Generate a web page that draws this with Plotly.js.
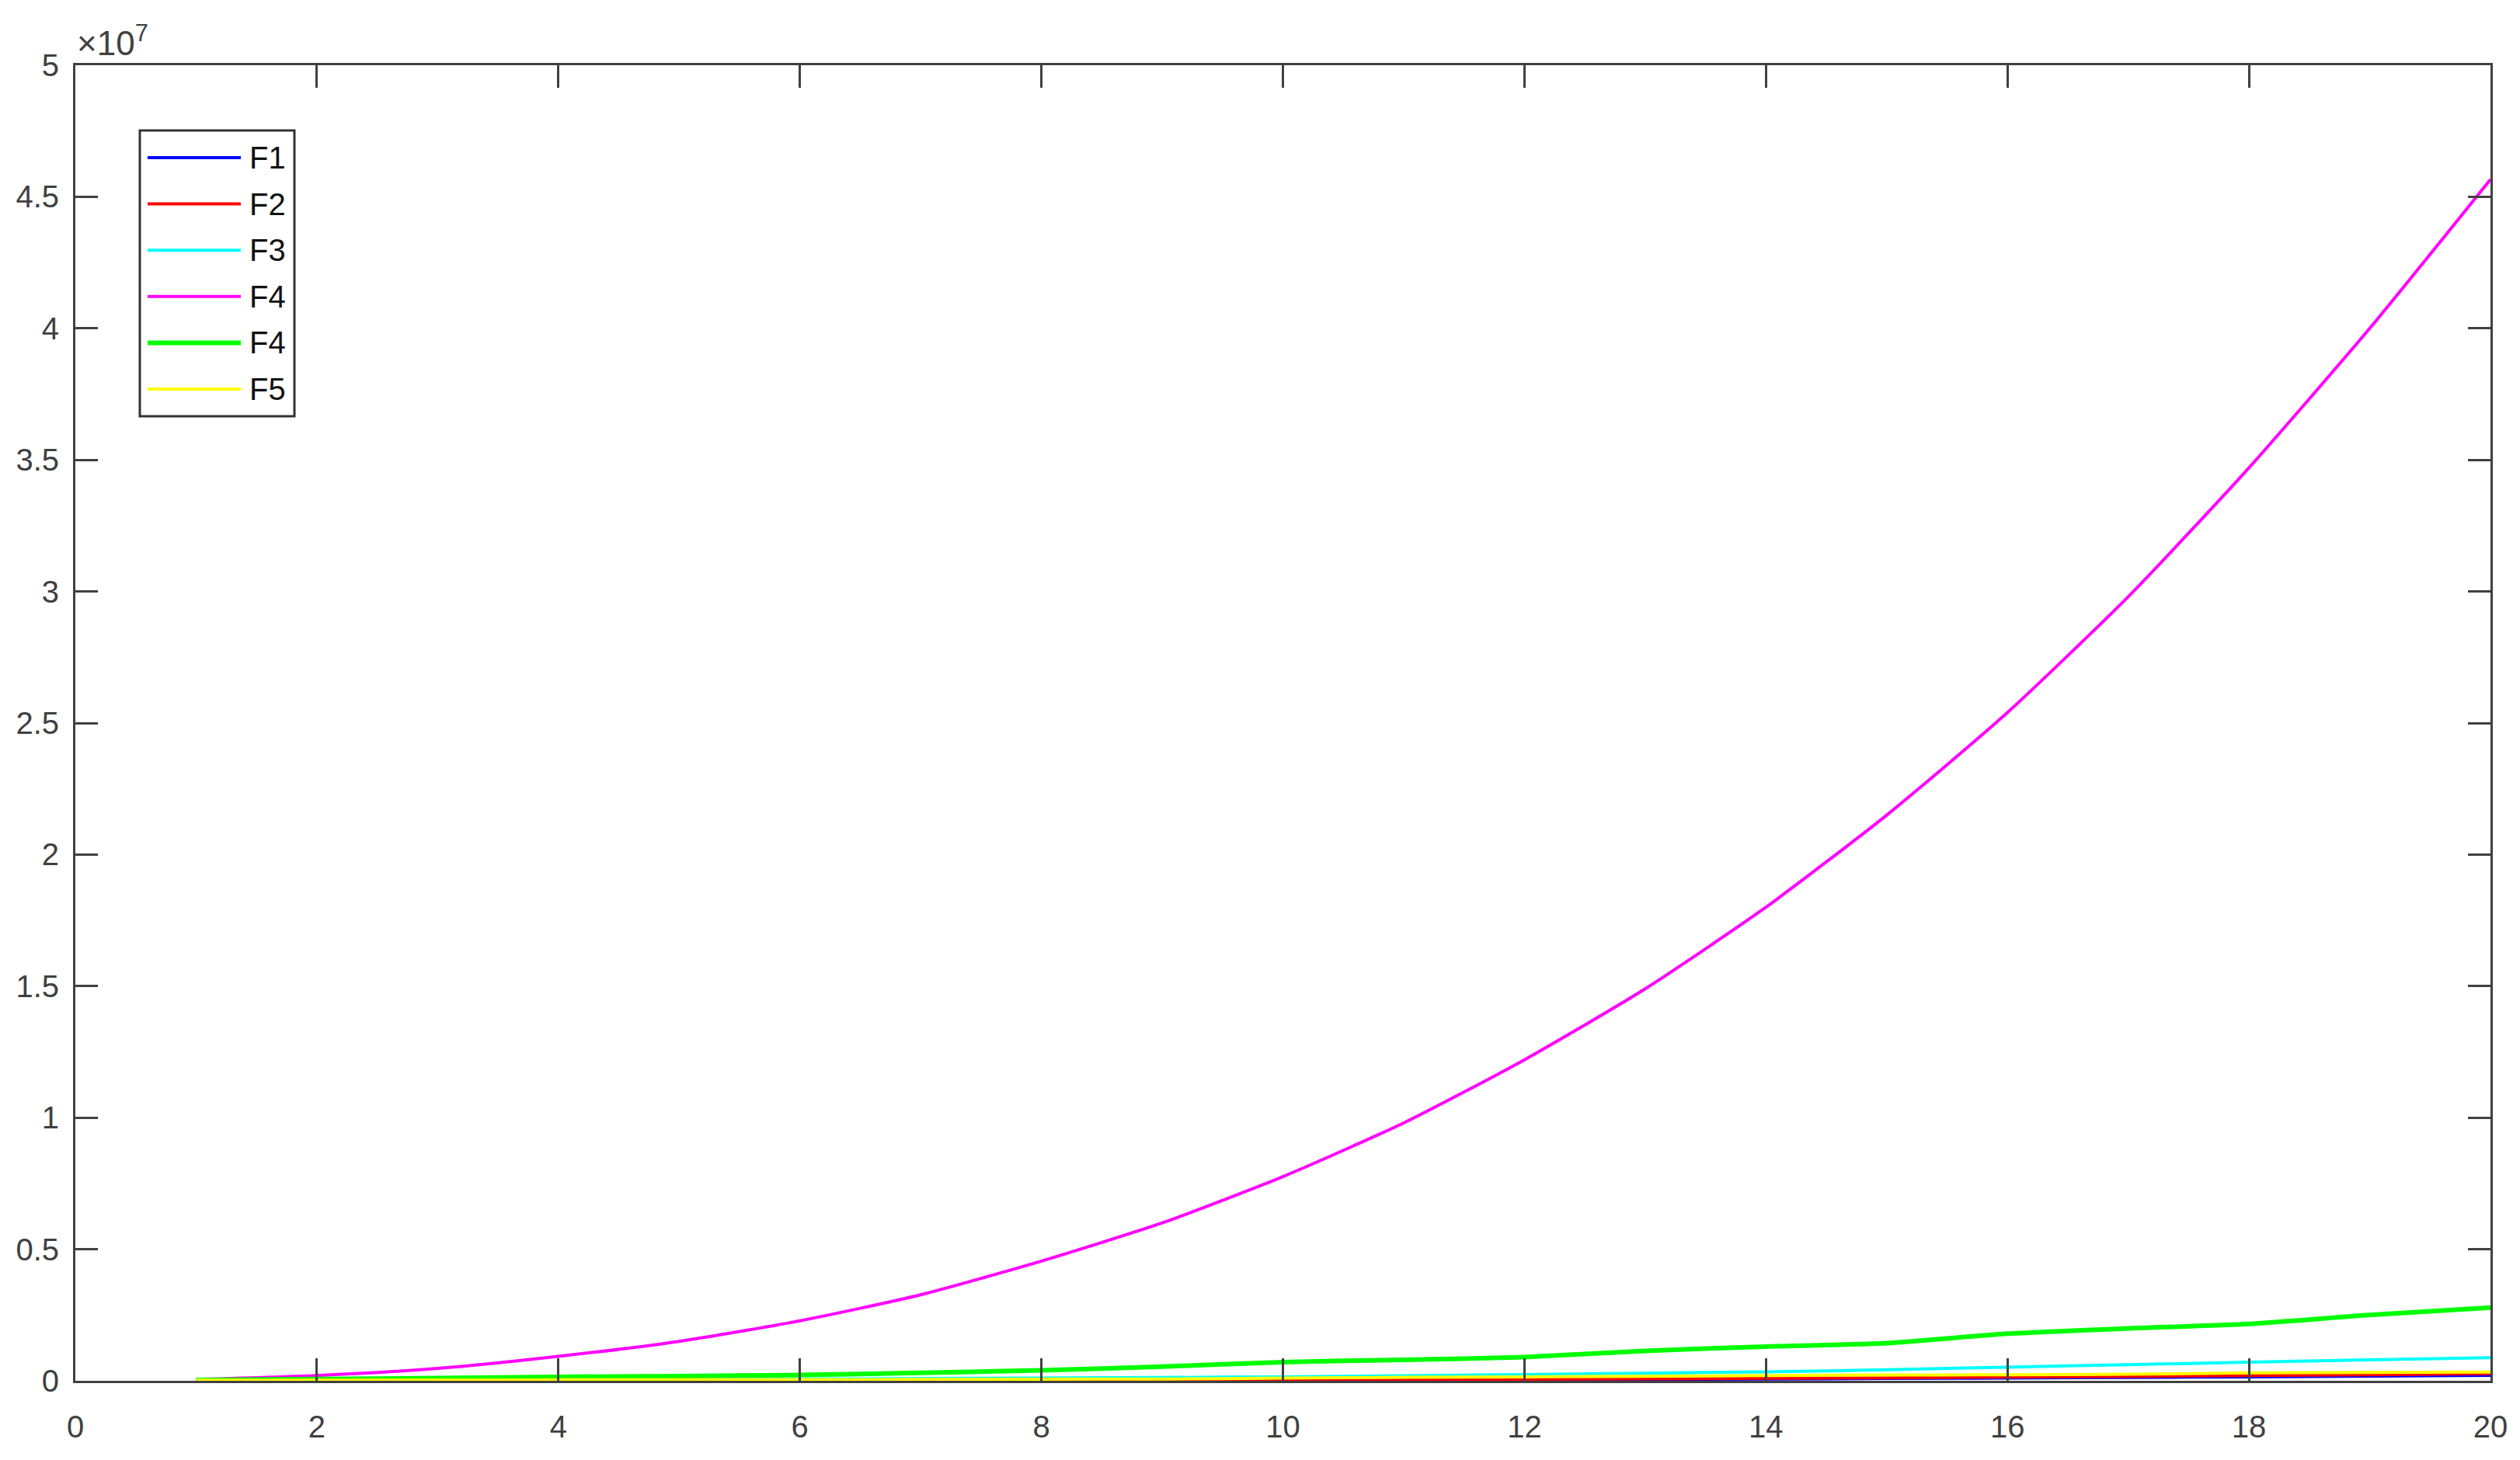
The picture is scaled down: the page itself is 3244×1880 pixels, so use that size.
<!DOCTYPE html>
<html>
<head>
<meta charset="utf-8">
<script src="https://cdn.plot.ly/plotly-3.0.1.min.js"></script>
<style>
  html, body { margin: 0; padding: 0; background: #fff; }
  #chart { width: 3244px; height: 1880px; }
</style>
</head>
<body>
<div id="chart"></div>
<script>
// values (y in absolute units, axis shows x 10^7)
const xVals = [1, 2, 3, 4, 5, 6, 7, 8, 9, 10, 11, 12, 13, 14, 15, 16, 17, 18, 19, 20];

const f1 = [0, 0, 1000, 2000, 3000, 5000, 8000, 12000, 17000, 24000, 32000, 42000, 54000, 68000, 85000, 104000, 126000, 150000, 178000, 205000];
const f2 = [0, 0, 1000, 2000, 4000, 7000, 11000, 17000, 24000, 33000, 45000, 58000, 74000, 93000, 114000, 138000, 166000, 197000, 232000, 270000];
const f3 = [10000, 20000, 30000, 40000, 50000, 65000, 85000, 105000, 125000, 150000, 190000, 235000, 290000, 340000, 420000, 520000, 610000, 710000, 800000, 880000];
const f4a = [50000, 200000, 470000, 930000, 1500000, 2280000, 3270000, 4550000, 6000000, 7760000, 9800000, 12200000, 14900000, 18000000, 21500000, 25400000, 29800000, 34700000, 40000000, 45660000];
const f4b = [30000, 70000, 100000, 150000, 180000, 220000, 300000, 400000, 540000, 710000, 800000, 900000, 1140000, 1300000, 1430000, 1790000, 1990000, 2160000, 2500000, 2780000];
const f5 = [20000, 25000, 30000, 35000, 40000, 45000, 50000, 60000, 70000, 100000, 130000, 150000, 170000, 200000, 220000, 230000, 250000, 300000, 320000, 330000];

const seriesNames = ['F1', 'F2', 'F3', 'F4', 'F4', 'F5'];
const seriesColors = ['#0000ff', '#ff0000', '#00ffff', '#ff00ff', '#00ff00', '#ffff00'];
const seriesWidths = [4, 4, 4, 4, 6, 4];
const seriesData = [f1, f2, f3, f4a, f4b, f5];

const xTicks = [0, 2, 4, 6, 8, 10, 12, 14, 16, 18, 20];
const yTickVals = [0, 5e6, 1e7, 1.5e7, 2e7, 2.5e7, 3e7, 3.5e7, 4e7, 4.5e7, 5e7];
const yTickText = ['0', '0.5', '1', '1.5', '2', '2.5', '3', '3.5', '4', '4.5', '5'];

const axisColor = '#404040';
const fontFam = 'Liberation Sans, Arial, sans-serif';

// plot box in page pixels, used to place the hand-made legend
const W = 3244, H = 1880;
const M = {l: 97, r: 38, t: 84, b: 102};
const px = (x) => (x - M.l) / (W - M.l - M.r);
const py = (y) => (H - M.b - y) / (H - M.t - M.b);

const traces = seriesData.map((ys, i) => ({
  x: xVals,
  y: ys,
  name: seriesNames[i],
  mode: 'lines',
  line: {color: seriesColors[i], width: seriesWidths[i], shape: 'spline', smoothing: 0.6},
  showlegend: false
}));

const axisCommon = {
  showline: true,
  linecolor: axisColor,
  linewidth: 3,
  mirror: 'ticks',
  ticks: 'inside',
  ticklen: 29,
  tickwidth: 3,
  tickcolor: axisColor,
  showgrid: false,
  zeroline: false,
  tickfont: {family: fontFam, size: 40, color: axisColor}
};

// legend like MATLAB's: long line samples, boxed
const shapes = [{
  type: 'rect', xref: 'paper', yref: 'paper', layer: 'above',
  x0: px(180), x1: px(379), y0: py(168), y1: py(536),
  line: {color: '#333333', width: 3}, fillcolor: '#ffffff'
}];
const annotations = [{
  xref: 'paper', yref: 'paper',
  x: 0, y: 1,
  xanchor: 'left', yanchor: 'bottom',
  yshift: 2,
  showarrow: false,
  text: '\u00d710<sup>7</sup>',
  font: {family: fontFam, size: 44, color: axisColor}
}];
seriesNames.forEach((name, i) => {
  const yy = 203 + i * 59.6;
  shapes.push({
    type: 'line', xref: 'paper', yref: 'paper', layer: 'above',
    x0: px(190), x1: px(310), y0: py(yy), y1: py(yy),
    line: {color: seriesColors[i], width: seriesWidths[i]}
  });
  annotations.push({
    xref: 'paper', yref: 'paper',
    x: px(319), y: py(yy),
    xanchor: 'left', yanchor: 'middle',
    showarrow: false,
    text: name,
    font: {family: fontFam, size: 40, color: '#111111'}
  });
});

const layout = {
  width: W,
  height: H,
  margin: M,
  paper_bgcolor: '#ffffff',
  plot_bgcolor: '#ffffff',
  showlegend: false,
  xaxis: Object.assign({}, axisCommon, {
    range: [0, 20],
    tickvals: xTicks,
    ticktext: xTicks.map(String),
    ticklabelstandoff: 22
  }),
  yaxis: Object.assign({}, axisCommon, {
    range: [0, 5e7],
    tickvals: yTickVals,
    ticktext: yTickText,
    ticklabelstandoff: 10
  }),
  shapes: shapes,
  annotations: annotations
};

Plotly.newPlot('chart', traces, layout, {displayModeBar: false, staticPlot: true});
</script>
</body>
</html>
